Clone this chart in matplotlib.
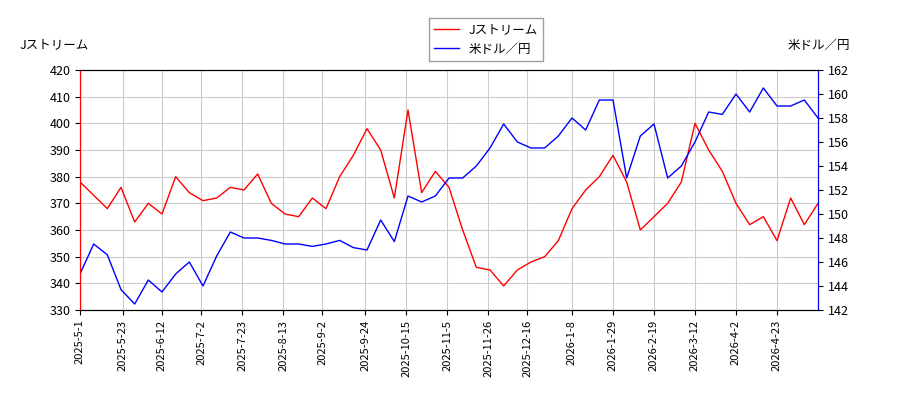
import matplotlib.pyplot as plt
import matplotlib.dates as mdates
import numpy as np
import pandas as pd

plt.rcParams['font.family'] = ['Noto Sans CJK JP', 'DejaVu Sans']

# 週ごとの値(読み取り)
fechas = pd.date_range('2025-05-01', periods=55, freq='7D')
jstream = [378, 373, 368, 376, 363, 370, 366, 380, 374, 371, 372, 376, 375, 381,
           370, 366, 365, 372, 368, 380, 388, 398, 390, 372, 405, 374, 382, 376,
           360, 346, 345, 339, 345, 348, 350, 356, 368, 375, 380, 388, 378, 360,
           365, 370, 378, 400, 390, 382, 370, 362, 365, 356, 372, 362, 370]
usdjpy = [145, 147.5, 146.6, 143.7, 142.5, 144.5, 143.5, 145, 146, 144, 146.5,
          148.5, 148, 148, 147.8, 147.5, 147.5, 147.3, 147.5, 147.8, 147.2, 147.0,
          149.5, 147.7, 151.5, 151, 151.5, 153, 153, 154, 155.5, 157.5, 156, 155.5,
          155.5, 156.5, 158, 157, 159.5, 159.5, 153, 156.5, 157.5, 153, 154, 156,
          158.5, 158.3, 160, 158.5, 160.5, 159, 159, 159.5, 158]
ticks = ['2025-5-1', '2025-5-23', '2025-6-12', '2025-7-2', '2025-7-23', '2025-8-13',
         '2025-9-2', '2025-9-24', '2025-10-15', '2025-11-5', '2025-11-26',
         '2025-12-16', '2026-1-8', '2026-1-29', '2026-2-19', '2026-3-12',
         '2026-4-2', '2026-4-23']

fig = plt.figure(figsize=(9, 4), dpi=100)
ax = fig.add_axes([80/900, 90/400, 738/900, 240/400])
ax2 = ax.twinx()

l1, = ax.plot(fechas, jstream, 'r-', lw=1, label='Jストリーム')
l2, = ax2.plot(fechas, usdjpy, 'b-', lw=1, label='米ドル／円')

ax.set_xlim(pd.Timestamp('2025-05-01'), fechas[-1])
ax.set_ylim(330, 420)
ax2.set_ylim(142, 162)
ax.set_yticks(np.arange(330, 421, 10))
ax2.set_yticks(np.arange(142, 163, 2))
tick_dates = pd.to_datetime(ticks)
ax.set_xticks(tick_dates)
ax.set_xticklabels(ticks, rotation=90, fontsize=8)
ax.grid(True, color='#cccccc')
ax.tick_params(axis='y', labelsize=9)
ax2.tick_params(axis='y', labelsize=9)

ax.spines['left'].set_color('red')
ax2.spines['left'].set_color('red')
ax2.spines['right'].set_color('blue')
ax.tick_params(axis='y', colors='black')

fig.text(20/900, 1 - 45/400, 'Jストリーム', fontsize=9, va='center')
fig.text(850/900, 1 - 45/400, '米ドル／円', fontsize=9, va='center', ha='right')
fig.legend(handles=[l1, l2], loc='upper center', bbox_to_anchor=(0.54, 0.97),
           fontsize=9, fancybox=False, edgecolor='#888888')

plt.savefig('out.png')
